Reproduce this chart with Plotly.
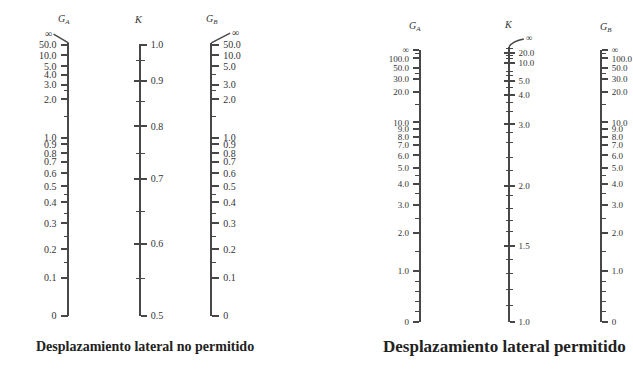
import plotly.graph_objects as go

W, H = 633, 378

# ---------------- data: nomograph graduations ----------------
# positions = height of each graduation above the scale's zero graduation (chart units)

# Sidesway inhibited ("no permitido")
G_inh_values = ["50.0", "10.0", "5.0", "4.0", "3.0", "2.0", "1.0", "0.9", "0.8", "0.7",
                "0.6", "0.5", "0.4", "0.3", "0.2", "0.1", "0"]
G_inh_pos = [279, 268, 257, 248, 238, 223, 183.5, 176.5, 167.5, 158.5,
             146.5, 133.5, 117, 95, 68.5, 39, 0]
GB_inh_unlabelled = ["4.0"]          # graduation drawn without a label on the G_B scale
G_inh_minor = [232, 205, 125, 105, 82, 55]

K_inh_values = ["1.0", "0.9", "0.8", "0.7", "0.6", "0.5"]
K_inh_pos = [279, 242, 195, 141, 74, 0]
K_inh_minor = [263, 221, 167, 107, 38]

# Sidesway permitted ("permitido")
G_per_values = ["∞", "100.0", "50.0", "30.0", "20.0", "10.0", "9.0", "8.0", "7.0", "6.0",
                "5.0", "4.0", "3.0", "2.0", "1.0", "0"]
G_per_pos = [280, 271, 261, 249.5, 236.5, 205, 198, 190, 182, 171,
             158, 142, 120, 91, 52, 0]
G_per_minor = [276, 255, 223.5, 150, 132, 106, 72, 41, 31, 21, 10]

K_per_values = ["20.0", "10.0", "5.0", "4.0", "3.0", "2.0", "1.5", "1.0"]
K_per_pos = [277, 266, 248, 233, 203, 140, 78, 0]
K_per_minor = [281, 274, 271, 258, 253, 241, 226, 216, 195, 184, 169, 156,
               130, 116, 104, 93, 64, 49, 33, 17]

TITLE_LEFT = "Desplazamiento lateral no permitido"
TITLE_RIGHT = "Desplazamiento lateral permitido"

# ---------------- styling / layout ----------------
LINE = "#474747"
TXT = "#333333"
SERIF = "Liberation Serif, Times New Roman, serif"

fig = go.Figure()
layout_axes = {}
n_axis = [0]


def py(pix):
    """pixel row -> paper fraction"""
    return (H - pix) / H


def add_scale(x_px, y0_px, d_lo, d_hi, vals, texts, minor, side, ticks,
              showlabels=True, showline=True, ticklen=7, minorlen=4, fsize=10):
    n_axis[0] += 1
    n = n_axis[0]
    key = "yaxis" if n == 1 else f"yaxis{n}"
    ref = "y" if n == 1 else f"y{n}"
    dom = [(H - y0_px + d_lo) / H, (H - y0_px + d_hi) / H]
    layout_axes[key] = dict(
        domain=dom, range=[d_lo, d_hi], anchor="free", position=x_px / W,
        side=side, showgrid=False, zeroline=False,
        showline=showline, linecolor=LINE, linewidth=1.7,
        tickmode="array", tickvals=vals, ticktext=texts,
        ticks=ticks, ticklen=ticklen, tickwidth=1.5, tickcolor=LINE,
        showticklabels=showlabels, ticklabelstandoff=2,
        tickfont=dict(family=SERIF, size=fsize, color=TXT),
        minor=dict(tickmode="array", tickvals=minor, ticks=ticks,
                   ticklen=minorlen, tickwidth=1.3, tickcolor=LINE, showgrid=False),
        fixedrange=True,
    )
    fig.add_trace(go.Scatter(x=[x_px], y=[d_lo], xaxis="x", yaxis=ref, mode="markers",
                             marker=dict(size=1, opacity=0), hoverinfo="skip",
                             showlegend=False))
    return ref


# G_B (inhibited) graduations: labelled ones as major ticks, the unlabelled one as a tick only
GB_lab_pos = [p for p, v in zip(G_inh_pos, G_inh_values) if v not in GB_inh_unlabelled]
GB_lab_txt = [v for v in G_inh_values if v not in GB_inh_unlabelled]
GB_extra = [p for p, v in zip(G_inh_pos, G_inh_values) if v in GB_inh_unlabelled]

# left nomograph (sidesway inhibited)
LX_GA, LX_K, LX_GB, L_Y0 = 69, 141, 213, 320
add_scale(LX_GA, L_Y0, 0, 281, G_inh_pos, G_inh_values, G_inh_minor, "left", "outside")
add_scale(LX_K, L_Y0, 0, 280, K_inh_pos, K_inh_values, K_inh_minor, "right", "outside",
          ticklen=6, minorlen=4)
add_scale(LX_K, L_Y0, 0, 280, K_inh_pos, K_inh_values, K_inh_minor, "right", "inside",
          showlabels=False, showline=False, ticklen=6, minorlen=4)
add_scale(LX_GB, L_Y0, 0, 281, GB_lab_pos, GB_lab_txt, G_inh_minor + GB_extra, "right", "outside")

# right nomograph (sidesway permitted)
RX_GA, RX_K, RX_GB, R_Y0 = 423, 513, 606, 326
add_scale(RX_GA, R_Y0, 0, 280, G_per_pos, G_per_values, G_per_minor, "left", "outside",
          ticklen=6, minorlen=4, fsize=9)
add_scale(RX_K, R_Y0, 0, 283, K_per_pos, K_per_values, K_per_minor, "right", "outside",
          ticklen=5, minorlen=3, fsize=9)
add_scale(RX_K, R_Y0, 0, 283, K_per_pos, K_per_values, K_per_minor, "right", "inside",
          showlabels=False, showline=False, ticklen=5, minorlen=3, fsize=9)
add_scale(RX_GB, R_Y0, 0, 280, G_per_pos, G_per_values, G_per_minor, "right", "outside",
          ticklen=6, minorlen=4, fsize=9)

# infinity leaders (decorative lines at scale tops), paper-referenced vertically
leader = dict(color=LINE, width=1.4)
shapes = [
    dict(type="path", xref="x", yref="paper",
         path=f"M {LX_GA},{py(39)} L {LX_GA-15},{py(30)}", line=leader),
    dict(type="path", xref="x", yref="paper",
         path=f"M {LX_GB},{py(39)} L {LX_GB+19},{py(29)}", line=leader),
    dict(type="path", xref="x", yref="paper",
         path=f"M {RX_K},{py(43)} Q {RX_K+4},{py(37)} {RX_K+15},{py(35)}", line=leader),
]

annotations = []


def add_text(x, y_pix, text, size, color=TXT):
    annotations.append(dict(xref="x", yref="paper", x=x, y=py(y_pix), text=text,
                            xanchor="center", yanchor="middle", showarrow=False,
                            font=dict(family=SERIF, size=size, color=color)))


for x, y, s in [(LX_GA - 20, 29, 10), (LX_GB + 24, 28, 10), (RX_K + 20, 34, 9)]:
    add_text(x, y, "∞", s)

# scale titles
for x, y, t in [(65, 15, "G<sub>A</sub>"), (140, 15, "K"), (214, 15, "G<sub>B</sub>"),
                (418, 22, "G<sub>A</sub>"), (513, 20, "K"), (611, 23, "G<sub>B</sub>")]:
    add_text(x, y, f"<i>{t}</i>", 10)

# chart captions
add_text(146, 352, f"<b>{TITLE_LEFT}</b>", 14, "#222222")
add_text(509, 352, f"<b>{TITLE_RIGHT}</b>", 17, "#222222")

fig.update_layout(
    width=W, height=H, margin=dict(l=0, r=0, t=0, b=0),
    paper_bgcolor="white", plot_bgcolor="rgba(0,0,0,0)",
    xaxis=dict(range=[0, W], domain=[0, 1], visible=False, fixedrange=True),
    shapes=shapes, annotations=annotations, showlegend=False,
    **layout_axes,
)

fig.write_html("out.html")
